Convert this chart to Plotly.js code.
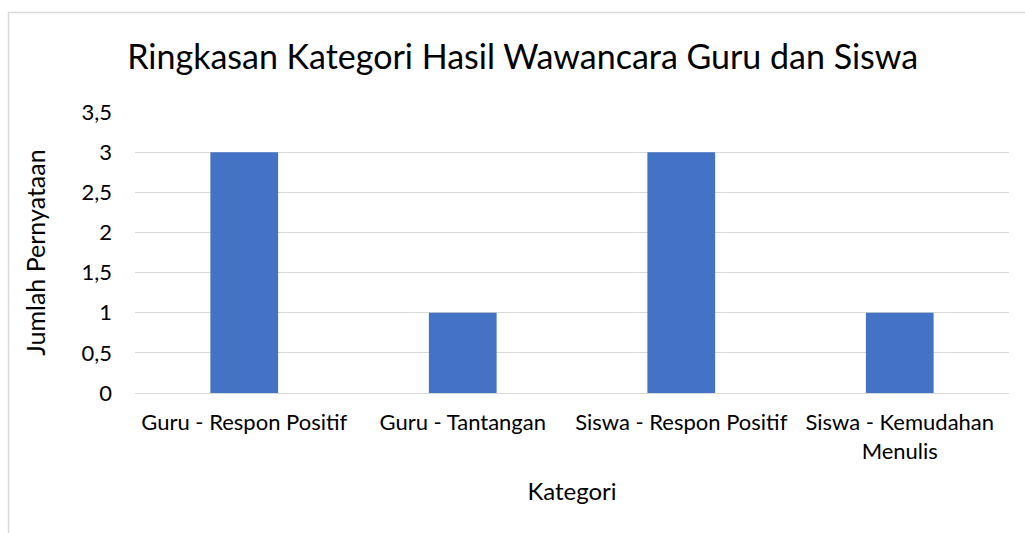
<!DOCTYPE html>
<html>
<head>
<meta charset="utf-8">
<script src="https://cdn.plot.ly/plotly-3.0.1.min.js"></script>
<style>html,body{margin:0;padding:0;background:#fff;}#chart{width:1025px;height:533px;}</style>
</head>
<body>
<div id="chart"></div>
<script>
const categories = ["Guru - Respon Positif", "Guru - Tantangan", "Siswa - Respon Positif", "Siswa - Kemudahan<br>Menulis"];
const values = [3, 1, 3, 1];
const yTicks = [0, 0.5, 1, 1.5, 2, 2.5, 3, 3.5];

const W = 1025, H = 533;
const L = 135, R = W - 1009, T = 112, B = H - 393;
const pw = W - L - R, ph = H - T - B;
const px = v => (v - L) / pw;
const py = v => (H - B - v) / ph;

const font = "Lato, 'Noto Sans', sans-serif";

Plotly.newPlot('chart', [{
  type: 'bar',
  x: categories,
  y: values,
  marker: {color: '#4472C4'},
  hoverinfo: 'none'
}], {
  width: W, height: H,
  margin: {l: L, r: R, t: T, b: B},
  paper_bgcolor: '#fff', plot_bgcolor: '#fff',
  separators: ',.',
  bargap: 0.69,
  font: {family: font, color: '#000'},
  title: {text: 'Ringkasan Kategori Hasil Wawancara Guru dan Siswa', font: {size: 34, family: font, color: '#000'}, x: 0.51, xanchor: 'center', y: 0.893, yanchor: 'middle'},
  xaxis: {
    type: 'category', tickfont: {size: 22, family: font, color: '#000'},
    ticks: '', showgrid: false, showline: false, zeroline: false, ticklabelstandoff: 14,
    title: {text: 'Kategori', font: {size: 24, family: font, color: '#000'}, standoff: 20},
    automargin: false
  },
  yaxis: {
    range: [0, 3.5], tickvals: yTicks, tickfont: {size: 22, family: font, color: '#000'},
    gridcolor: '#d9d9d9', gridwidth: 1, zeroline: true, zerolinecolor: '#d9d9d9', zerolinewidth: 1,
    showline: false, ticks: '', ticklabelstandoff: 22,
    title: {text: 'Jumlah Pernyataan', font: {size: 25, family: font, color: '#000'}, standoff: 28},
    automargin: false
  },
  shapes: [{
    type: 'rect', xref: 'paper', yref: 'paper',
    x0: px(8.5), x1: px(1040), y0: py(560), y1: py(12.5),
    line: {color: '#d9d9d9', width: 1.5}, fillcolor: 'rgba(0,0,0,0)', layer: 'below'
  }],
  showlegend: false
}, {staticPlot: true});
</script>
</body>
</html>
